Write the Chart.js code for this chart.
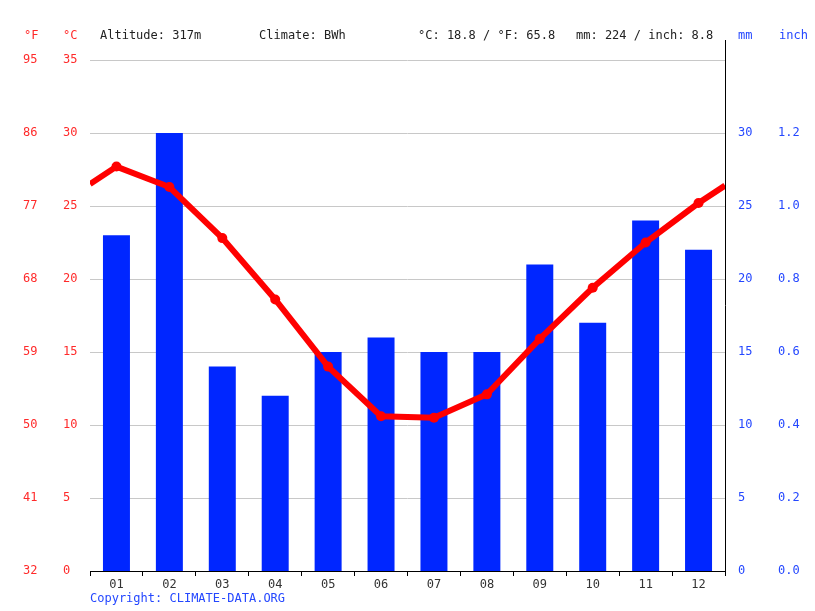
<!DOCTYPE html>
<html>
<head>
<meta charset="utf-8">
<script src="https://cdn.jsdelivr.net/npm/chart.js@4"></script>
<style>
  html, body { margin: 0; padding: 0; background: #fff; }
  #wrap { width: 815px; height: 611px; }
</style>
</head>
<body>
<div id="wrap"><canvas id="climateChart" width="815" height="611"></canvas></div>
<script>
// Climate chart data
const months = ["01", "02", "03", "04", "05", "06", "07", "08", "09", "10", "11", "12"];
const precipMm = [23, 30, 14, 12, 15, 16, 15, 15, 21, 17, 24, 22];
const tempC = [27.7, 26.3, 22.8, 18.6, 14.0, 10.6, 10.5, 12.1, 15.9, 19.4, 22.5, 25.2];
// where the temperature curve meets the left / right edge of the plot
const tempEdgeC = [26.5, 26.4];
const headerTexts = ["Altitude: 317m", "Climate: BWh", "°C: 18.8 / °F: 65.8", "mm: 224 / inch: 8.8"];

const RED = "#ff0000";
const BLUE = "#0026ff";
const LABEL_BLUE = "#2447ff";
const LABEL_RED = "#ff2a2a";
const FONT = "'DejaVu Sans Mono', monospace";

// line points on a linear x scale (0.5 .. 12.5) so the curve reaches the edges
const linePoints = [{ x: 0.5, y: tempEdgeC[0] }]
  .concat(tempC.map((t, i) => ({ x: i + 1, y: t })))
  .concat([{ x: 12.5, y: tempEdgeC[1] }]);
const pointSizes = linePoints.map((p, i) => (i === 0 || i === linePoints.length - 1 ? 0 : 5));

// header texts, axis unit labels and the tall right axis line
const extras = {
  id: "extras",
  afterDraw(chart) {
    const ctx = chart.ctx;
    const area = chart.chartArea;
    ctx.save();
    ctx.font = "12px " + FONT;
    ctx.textBaseline = "middle";
    ctx.textAlign = "left";
    ctx.fillStyle = LABEL_RED;
    ctx.fillText("°F", 24, 36);
    ctx.fillText("°C", 63, 36);
    ctx.fillStyle = LABEL_BLUE;
    ctx.fillText("mm", 738, 36);
    ctx.fillText("inch", 779, 36);
    ctx.fillStyle = "#222";
    const xs = [100, 259, 418, 576];
    headerTexts.forEach((t, i) => ctx.fillText(t, xs[i], 36));
    ctx.fillStyle = LABEL_BLUE;
    ctx.fillText("Copyright: CLIMATE-DATA.ORG", 90, 599);
    ctx.strokeStyle = "#000";
    ctx.lineWidth = 1;
    ctx.beginPath();
    ctx.moveTo(Math.round(area.right) + 0.5, 40);
    ctx.lineTo(Math.round(area.right) + 0.5, area.bottom);
    ctx.stroke();
    ctx.restore();
  },
};

const tickFont = { family: FONT, size: 12 };

new Chart(document.getElementById("climateChart").getContext("2d"), {
  type: "bar",
  data: {
    labels: months,
    datasets: [
      {
        type: "line",
        label: "Temperature",
        data: linePoints,
        xAxisID: "xl",
        yAxisID: "c",
        borderColor: RED,
        backgroundColor: RED,
        borderWidth: 6,
        pointRadius: pointSizes,
        pointBackgroundColor: RED,
        pointBorderWidth: 0,
        tension: 0,
        order: 0,
      },
      {
        label: "Precipitation",
        data: precipMm,
        xAxisID: "x",
        yAxisID: "mm",
        backgroundColor: BLUE,
        grouped: false,
        barPercentage: 0.51,
        categoryPercentage: 1,
        order: 1,
      },
    ],
  },
  options: {
    responsive: false,
    animation: false,
    events: [],
    layout: { padding: { left: 23, right: 0, top: 60, bottom: 0 } },
    plugins: { legend: { display: false }, tooltip: { enabled: false } },
    scales: {
      x: {
        position: "bottom",
        offset: true,
        grid: { offset: true, drawOnChartArea: false, color: "#000", tickLength: 5 },
        border: { display: true, color: "#000" },
        ticks: { color: "#333", font: tickFont, padding: 2 },
        afterFit: (s) => { s.height = 40; },
      },
      xl: { type: "linear", display: false, offset: false, min: 0.5, max: 12.5 },
      f: {
        position: "left",
        weight: 2,
        min: 0, max: 35,
        grid: { display: false },
        border: { display: false },
        ticks: {
          stepSize: 5, color: LABEL_RED, font: tickFont, crossAlign: "far",
          callback: (v) => String(32 + 1.8 * v),
        },
        afterFit: (s) => { s.width = 40; },
      },
      c: {
        position: "left",
        weight: 1,
        min: 0, max: 35,
        grid: { color: "#c8c8c8", drawTicks: false },
        border: { display: false },
        ticks: { stepSize: 5, color: LABEL_RED, font: tickFont, crossAlign: "far" },
        afterFit: (s) => { s.width = 27; },
      },
      mm: {
        position: "right",
        weight: 1,
        min: 0, max: 35,
        grid: { display: false, drawTicks: false },
        border: { display: false },
        ticks: {
          stepSize: 5, color: LABEL_BLUE, font: tickFont, padding: 13,
          callback: (v) => (v > 30 ? "" : String(v)),
        },
        afterFit: (s) => { s.width = 40; },
      },
      inch: {
        position: "right",
        weight: 2,
        min: 0, max: 35,
        grid: { display: false, drawTicks: false },
        border: { display: false },
        ticks: {
          stepSize: 5, color: LABEL_BLUE, font: tickFont, padding: 13,
          callback: (v) => (v > 30 ? "" : (v / 25).toFixed(1)),
        },
        afterFit: (s) => { s.width = 50; },
      },
    },
  },
  plugins: [extras],
});
</script>
</body>
</html>
